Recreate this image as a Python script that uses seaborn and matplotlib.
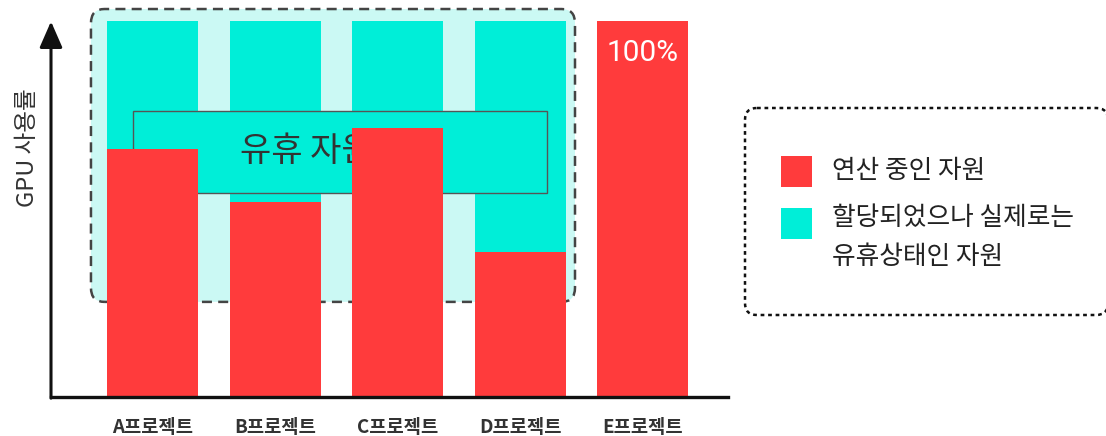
import matplotlib
matplotlib.use("Agg")
import matplotlib.pyplot as plt
import seaborn as sns
import pandas as pd
from matplotlib.patches import FancyBboxPatch, Rectangle

# ---- data ----
projects = ["A프로젝트", "B프로젝트", "C프로젝트", "D프로젝트", "E프로젝트"]
allocated = [100, 100, 100, 100, 100]      # 할당된 GPU (%)
in_use = [66, 52, 71.5, 38.5, 100]          # 연산 중인 GPU (%)
legend_labels = ["연산 중인 자원", "할당되었으나 실제로는\n유휴상태인 자원"]
idle_label = "유휴 자원"
y_label = "GPU 사용률"
full_label = "100%"

RED = "#FF3B3C"
CYAN = "#00EED8"
LIGHT = "#CBF9F4"

sns.set_style("white")
plt.rcParams["font.family"] = ["Noto Sans CJK KR", "DejaVu Sans"]

df = pd.DataFrame({"project": projects, "allocated": allocated, "in_use": in_use})

fig = plt.figure(figsize=(11.06, 4.36), dpi=100)
ax = fig.add_axes([51 / 1106, 39 / 436, 677 / 1106, 397 / 436])

sns.barplot(data=df, x="project", y="allocated", color=CYAN, width=0.742,
            saturation=1, ax=ax, zorder=2, linewidth=0)
sns.barplot(data=df, x="project", y="in_use", color=RED, width=0.742,
            saturation=1, ax=ax, zorder=4, linewidth=0)

ax.set_xlim(-0.828, 4.694)
ax.set_ylim(0, 105.6)

# dashed rounded region behind project A-D
region = FancyBboxPatch((-0.502, 25.3), 3.948, 77.9,
                        boxstyle="round,pad=0,rounding_size=0.11",
                        mutation_aspect=34, facecolor=LIGHT, edgecolor="#444444",
                        linestyle=(0, (4, 2.5)), linewidth=1.8, zorder=1)
ax.add_patch(region)

# "유휴 자원" box
ax.add_patch(Rectangle((-0.159, 54.3), 3.377, 21.8, facecolor=CYAN,
                       edgecolor="#555555", linewidth=1.0, zorder=3))
ax.text(0.714, 65.2, idle_label, fontsize=24.5, color="#333333",
        ha="left", va="center", zorder=3.5)

# 100% label
ax.text(4, 91.6, full_label, fontsize=21.5, color="white", ha="center",
        va="center", zorder=5, family=["Roboto", "DejaVu Sans"])

# axes
for s in ["top", "right", "left"]:
    ax.spines[s].set_visible(False)
ax.spines["bottom"].set_linewidth(2.4)
ax.spines["bottom"].set_color("#111111")
ax.spines["bottom"].set_zorder(6)
ax.set_yticks([])
ax.tick_params(axis="x", length=0, pad=15)
for lab in ax.get_xticklabels():
    lab.set_fontsize(13.5)
    lab.set_fontweight("bold")
    lab.set_color("#333333")
ax.set_xlabel("")
ax.set_ylabel(y_label, fontsize=17, color="#333333")
ax.yaxis.set_label_coords(-0.017, 0.627)

ax.annotate("", xy=(-0.828, 99.9), xytext=(-0.828, -0.3),
            xycoords="data", annotation_clip=False,
            arrowprops=dict(arrowstyle="-|>,head_length=1.6,head_width=0.7",
                            color="#111111", lw=2.2, shrinkA=0, shrinkB=0),
            zorder=6)

# legend (overlay in pixel coordinates)
ov = fig.add_axes([0, 0, 1, 1], facecolor="none")
ov.set_xlim(0, 1106)
ov.set_ylim(436, 0)
ov.axis("off")
ov.add_patch(FancyBboxPatch((745, 108), 363, 207,
                            boxstyle="round,pad=0,rounding_size=12",
                            facecolor="white", edgecolor="#111111",
                            linestyle=(0, (1.5, 1.5)), linewidth=1.8))
ov.add_patch(Rectangle((781, 156), 31, 31, facecolor=RED, edgecolor="none"))
ov.add_patch(Rectangle((781, 208), 31, 31, facecolor=CYAN, edgecolor="none"))
ov.text(832, 171, legend_labels[0], fontsize=18.5, color="#222222",
        ha="left", va="center")
ov.text(832, 205, legend_labels[1], fontsize=18.5, color="#222222",
        ha="left", va="top", linespacing=1.65)

fig.savefig("out.png", dpi=100)
